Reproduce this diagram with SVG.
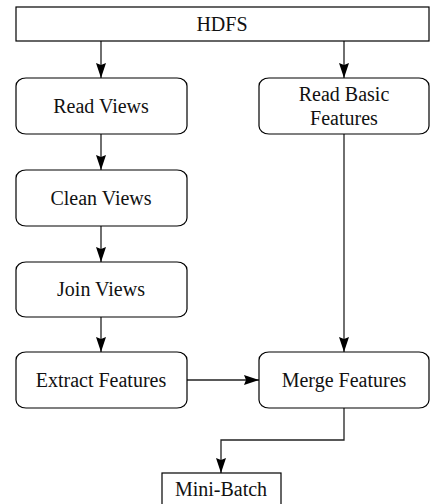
<svg xmlns="http://www.w3.org/2000/svg" width="430" height="504" viewBox="0 0 430 504">
<style>
.box{fill:#fff;stroke:#000;stroke-width:1.2}
.t{font-family:"Liberation Serif","Times New Roman",serif;font-size:20px;fill:#111;text-anchor:middle}
.c{fill:none;stroke:#222;stroke-width:1.3}
</style>
<defs>
<marker id="ah" viewBox="0 0 15 10" refX="15" refY="5" markerWidth="15" markerHeight="10" markerUnits="userSpaceOnUse" orient="auto">
<path d="M0,0 L15,5 L0,10 L2,5 Z" fill="#000"/>
</marker>
</defs>
<rect width="430" height="504" fill="#fff"/>
<g id="connectors">
<line class="c" x1="101" y1="41" x2="101" y2="78" marker-end="url(#ah)"/>
<line class="c" x1="344" y1="41" x2="344" y2="78" marker-end="url(#ah)"/>
<line class="c" x1="101" y1="134" x2="101" y2="170" marker-end="url(#ah)"/>
<line class="c" x1="101" y1="226" x2="101" y2="262" marker-end="url(#ah)"/>
<line class="c" x1="101" y1="317" x2="101" y2="352" marker-end="url(#ah)"/>
<line class="c" x1="344" y1="134" x2="344" y2="352" marker-end="url(#ah)"/>
<line class="c" x1="187" y1="380" x2="259" y2="380" marker-end="url(#ah)"/>
<polyline class="c" points="344,408 344,440 221,440 221,473" marker-end="url(#ah)"/>
</g>
<g id="hdfs">
<rect class="box" x="16" y="7" width="413" height="34"/>
<text class="t" x="222" y="31">HDFS</text>
</g>
<g id="read-views">
<rect class="box" x="16" y="78" width="171" height="56" rx="10" ry="8"/>
<text class="t" x="101" y="113">Read Views</text>
</g>
<g id="read-basic-features">
<rect class="box" x="259" y="78" width="170" height="56" rx="10" ry="8"/>
<text class="t" x="344" y="101">Read Basic</text>
<text class="t" x="344" y="125">Features</text>
</g>
<g id="clean-views">
<rect class="box" x="16" y="170" width="171" height="56" rx="10" ry="8"/>
<text class="t" x="101" y="205">Clean Views</text>
</g>
<g id="join-views">
<rect class="box" x="16" y="262" width="171" height="55" rx="10" ry="8"/>
<text class="t" x="101" y="296">Join Views</text>
</g>
<g id="extract-features">
<rect class="box" x="16" y="352" width="171" height="56" rx="10" ry="8"/>
<text class="t" x="101" y="387">Extract Features</text>
</g>
<g id="merge-features">
<rect class="box" x="259" y="352" width="170" height="56" rx="10" ry="8"/>
<text class="t" x="344" y="387">Merge Features</text>
</g>
<g id="mini-batch">
<rect class="box" x="162" y="473" width="119" height="40"/>
<text class="t" x="221" y="496">Mini-Batch</text>
</g>
</svg>
